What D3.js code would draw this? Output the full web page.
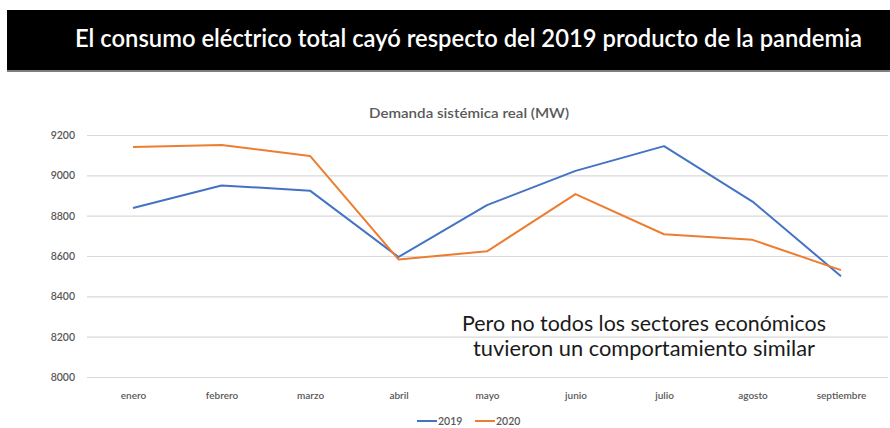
<!DOCTYPE html>
<html><head><meta charset="utf-8">
<script src="https://cdn.jsdelivr.net/npm/d3@7"></script>
<style>body{margin:0;background:#fff}svg{display:block}</style>
</head><body>
<svg id="c" width="890" height="428"></svg>
<script>
const months = ["enero","febrero","marzo","abril","mayo","junio","julio","agosto","septiembre"];
const values2019 = [8838, 8950, 8924, 8595, 8852, 9022, 9145, 8870, 8500];
const values2020 = [9140, 9150, 9096, 8583, 8623, 8907, 8708, 8680, 8530];
const yTicks = [8000, 8200, 8400, 8600, 8800, 9000, 9200];
const seriesNames = ["2019", "2020"];
const colors = ["#4472C4", "#ED7D31"];
const titleText = "El consumo eléctrico total cayó respecto del 2019 producto de la pandemia";
const chartTitle = "Demanda sistémica real (MW)";
const noteLines = ["Pero no todos los sectores económicos", "tuvieron un comportamiento similar"];

const svg = d3.select("#c");
const font = "Lato, Calibri, 'Open Sans', sans-serif";

// header bar
svg.append("rect").attr("x", 7).attr("y", 10).attr("width", 883).attr("height", 61).attr("fill", "#000");
svg.append("rect").attr("x", 7).attr("y", 70).attr("width", 883).attr("height", 2).attr("fill", "#7f7f7f");
svg.append("text").attr("x", 75).attr("y", 47).attr("fill", "#fff")
  .attr("font-family", font).attr("font-size", 24).attr("font-weight", 600)
  .attr("textLength", 787).attr("lengthAdjust", "spacingAndGlyphs")
  .text(titleText);

const x = d3.scalePoint().domain(months).range([133, 841]);
const y = d3.scaleLinear().domain([8000, 9200]).range([377, 135]);
const gridL = 87, gridR = 888;

// gridlines
const yAxis = d3.axisLeft(y).tickValues(yTicks).tickSize(-(gridR - gridL)).tickPadding(12).tickFormat(d3.format("d"));
const gy = svg.append("g").attr("transform", `translate(${gridL},0)`).call(yAxis);
gy.select(".domain").remove();
gy.selectAll(".tick line").attr("stroke", "#d9d9d9").attr("stroke-width", 1.2);
gy.selectAll(".tick text").attr("fill", "#595959").attr("font-family", font).attr("font-size", 10.5).attr("font-weight", 600).attr("x", 75 - gridL).attr("text-anchor", "end");

const xAxis = d3.axisBottom(x).tickSize(0).tickPadding(0);
const gx = svg.append("g").attr("transform", "translate(0,390)").call(xAxis);
gx.select(".domain").remove();
gx.selectAll(".tick text").attr("fill", "#595959").attr("font-family", font).attr("font-size", 10).attr("font-weight", 600).attr("dy", 9);

// chart title
svg.append("text").attr("x", 369).attr("y", 118)
  .attr("fill", "#595959").attr("font-family", font).attr("font-size", 14).attr("font-weight", 600)
  .attr("textLength", 200).attr("lengthAdjust", "spacingAndGlyphs").text(chartTitle);

// lines
const line = d3.line().x((d, i) => x(months[i])).y(d => y(d));
[values2019, values2020].forEach((vals, k) => {
  svg.append("path").datum(vals).attr("d", line).attr("fill", "none")
    .attr("stroke", colors[k]).attr("stroke-width", 2).attr("stroke-linejoin", "round");
});

// annotation
const noteX = [462, 473], noteW = [364, 342];
noteLines.forEach((t, i) => {
  svg.append("text").attr("x", noteX[i]).attr("y", 331 + i * 25)
    .attr("fill", "#1a1a1a").attr("font-family", font).attr("font-size", 21.5)
    .attr("textLength", noteW[i]).attr("lengthAdjust", "spacingAndGlyphs").text(t);
});

// legend
const legX = [417, 475];
seriesNames.forEach((n, k) => {
  svg.append("line").attr("x1", legX[k]).attr("x2", legX[k] + 20).attr("y1", 421).attr("y2", 421)
    .attr("stroke", colors[k]).attr("stroke-width", 2);
  svg.append("text").attr("x", legX[k] + 21).attr("y", 425).attr("fill", "#595959")
    .attr("font-family", font).attr("font-size", 10.5).attr("font-weight", 600).text(n);
});
</script>
</body></html>
